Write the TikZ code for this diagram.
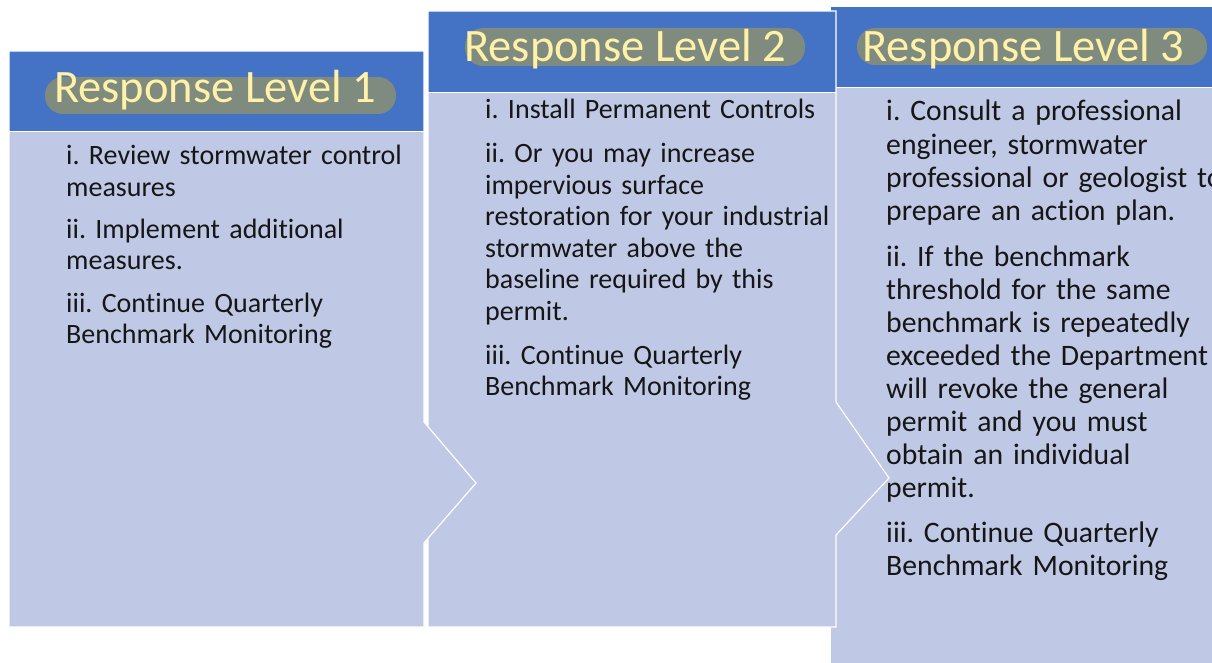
\documentclass[tikz,border=0pt]{standalone}
\usepackage{fontspec}
\setmainfont{Carlito}[Ligatures=NoCommon]
\frenchspacing
\definecolor{hdr}{RGB}{68,114,196}
\definecolor{bodyc}{RGB}{191,200,228}
\definecolor{pillc}{RGB}{127,139,126}
\definecolor{ttl}{RGB}{255,241,168}
\definecolor{txt}{RGB}{22,22,22}
\begin{document}
\begin{tikzpicture}[x=1pt,y=-1pt,
  edgeline/.style={draw=white,line width=1.2pt,line join=miter},
  sepline/.style={draw=white,line width=0.8pt},
  pillbox/.style={fill=pillc,rounded corners=18pt},
  ttlnode/.style={inner sep=0pt,anchor=base west,text=ttl,font=\fontsize{46.5}{50}\selectfont},
  itemnode/.style={inner sep=0pt,anchor=base west,text=txt,text width=370pt,align=left,font=\fontsize{28}{31.5}\selectfont},
  itembig/.style={itemnode,font=\fontsize{29.7}{33.1}\selectfont}]
\useasboundingbox (0,0) rectangle (1212,663);
\begin{scope}
\clip (0,0) rectangle (1212,663);
% ---- panel 3 ----
\fill[bodyc] (831,7) rectangle (1240,690);
\fill[hdr] (831,7) rectangle (1240,87);
\draw[sepline] (831,87) -- (1240,87);
% ---- panel 2 ----
\fill[bodyc] (428,11) -- (836,11) -- (836,402) -- (889,478) -- (836,535) -- (836,627) -- (428,627) -- cycle;
\fill[hdr] (428,11) rectangle (836,92);
\draw[sepline] (428,92) -- (836,92);
\draw[edgeline] (428,11) -- (836,11) -- (836,402) -- (889,478) -- (836,535) -- (836,627) -- (428,627) -- cycle;
% ---- panel 1 ----
\fill[bodyc] (9,51) -- (424,51) -- (424,422) -- (476,483) -- (424,543) -- (424,627) -- (9,627) -- cycle;
\fill[hdr] (9,51) rectangle (424,131);
\draw[sepline] (9,131) -- (424,131);
\draw[edgeline] (9,51) -- (424,51) -- (424,422) -- (476,483) -- (424,543) -- (424,627) -- (9,627) -- cycle;
% ---- title pills ----
\fill[pillbox] (45,77) rectangle (396,114);
\fill[pillbox] (465,28) rectangle (805,66);
\fill[pillbox] (857,28) rectangle (1207,65);
% ---- titles ----
\node[ttlnode] (t1) at (54,103) {Response Level 1};
\node[ttlnode] (t2) at (464,62) {Response Level 2};
\node[ttlnode] (t3) at (862,62) {Response Level 3};
% ---- panel 1 text ----
\node[itemnode] (a1) at (66,165) {i. Review stormwater control\\measures};
\node[itemnode] (a2) at (66,238) {ii. Implement additional\\measures.};
\node[itemnode] (a3) at (66,312) {iii. Continue Quarterly\\Benchmark Monitoring};
% ---- panel 2 text ----
\node[itemnode] (b1) at (485,119) {i. Install Permanent Controls};
\node[itemnode] (b2) at (485,163) {ii. Or you may increase\\impervious surface\\restoration for your industrial\\stormwater above the\\baseline required by this\\permit.};
\node[itemnode] (b3) at (485,364) {iii. Continue Quarterly\\Benchmark Monitoring};
% ---- panel 3 text ----
\node[itembig] (c1) at (886,121) {i. Consult a professional\\engineer, stormwater\\professional or geologist to\\prepare an action plan.};
\node[itembig] (c2) at (886,266) {ii. If the benchmark\\threshold for the same\\benchmark is repeatedly\\exceeded the Department\\will revoke the general\\permit and you must\\obtain an individual\\permit.};
\node[itembig] (c3) at (886,542) {iii. Continue Quarterly\\Benchmark Monitoring};
\end{scope}
\end{tikzpicture}
\end{document}
